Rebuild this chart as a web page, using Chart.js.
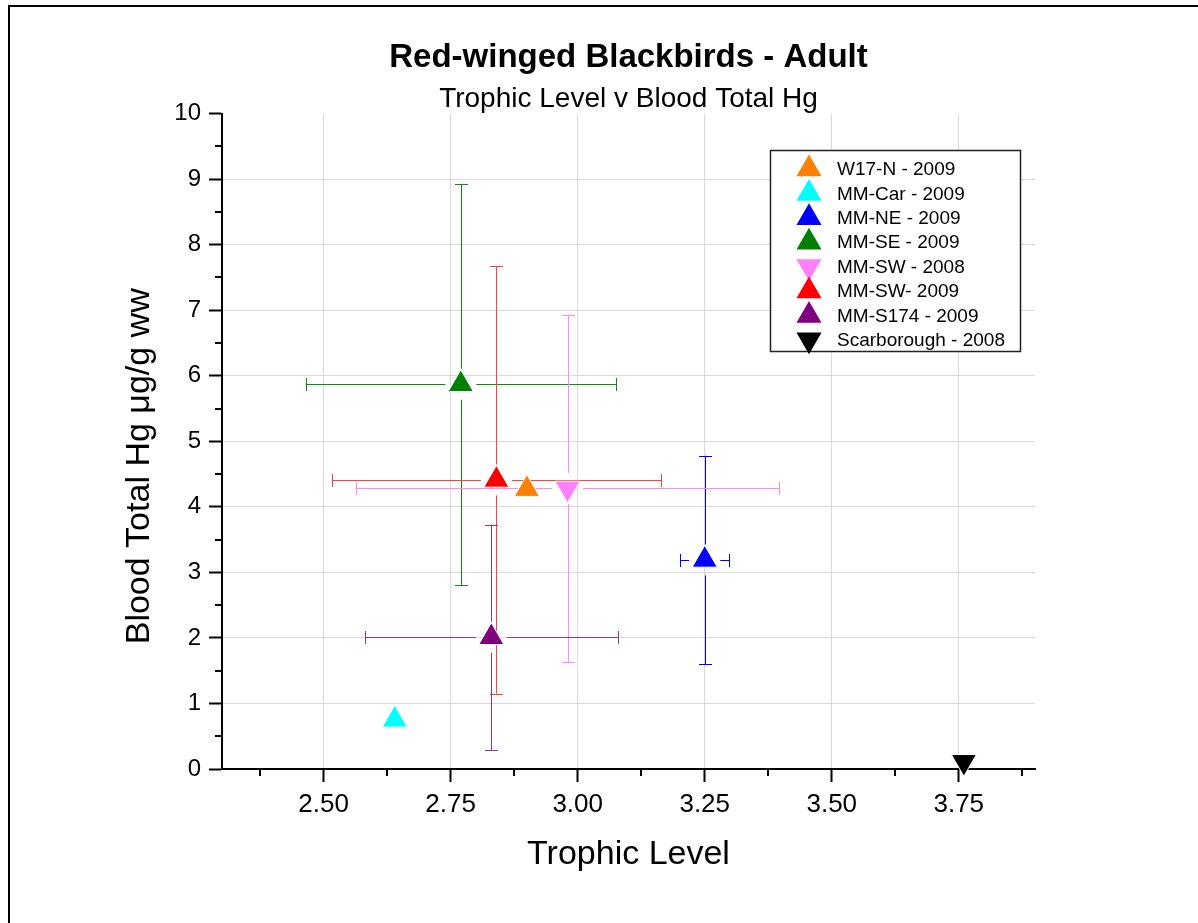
<!DOCTYPE html>
<html>
<head>
<meta charset="utf-8">
<title>Red-winged Blackbirds - Adult</title>
<script src="https://cdn.jsdelivr.net/npm/chart.js@4.4.0/dist/chart.umd.min.js"></script>
<style>
  html, body { margin: 0; padding: 0; background: #fff; overflow: hidden; }
  #wrap { position: relative; width: 1198px; height: 923px; }
</style>
</head>
<body>
<div id="wrap"><canvas id="hgChart" width="1198" height="923"></canvas></div>
<script>
const siteLabels = [
  "W17-N - 2009", "MM-Car - 2009", "MM-NE - 2009", "MM-SE - 2009",
  "MM-SW - 2008", "MM-SW- 2009", "MM-S174 - 2009", "Scarborough - 2008"
];
const siteColors = ["#FF8000", "#00FFFF", "#0000FF", "#008000", "#FF80FF", "#FF0000", "#800080", "#000000"];
const barColors = ["#FF8000", "#00FFFF", "#0000FF", "#118811", "#FF88FF", "#FF4040", "#993399", "#000000"];
const markerDown = [false, false, false, false, true, false, false, true];

// trophic level (x) and blood total Hg (y), with +/- error
const trophic = [2.90, 2.64, 3.25, 2.77, 2.98, 2.84, 2.83, 3.76];
const hgBlood = [4.27, 0.75, 3.19, 5.87, 4.28, 4.41, 2.01, 0.11];
const trophicErr = [null, null, 0.048, 0.305, 0.417, 0.324, 0.249, null];
const hgErr = [null, null, 1.59, 3.06, 2.65, 3.26, 1.72, null];

const xTicks = [2.50, 2.75, 3.00, 3.25, 3.50, 3.75];
const yTicks = [0, 1, 2, 3, 4, 5, 6, 7, 8, 9, 10];
const yTitle = "Blood Total Hg μg/g ww";

const FONT = "'Liberation Sans', Arial, Helvetica, sans-serif";
const R = 14.5;

function triangle(ctx, x, y, r, down) {
  const s = down ? -1 : 1;
  ctx.beginPath();
  ctx.moveTo(x, y - s * r);
  ctx.lineTo(x + r * Math.sin(Math.PI * 2 / 3), y + s * r / 2);
  ctx.lineTo(x - r * Math.sin(Math.PI * 2 / 3), y + s * r / 2);
  ctx.closePath();
}

// outer frame (only left and top edges are in view)
const framePlugin = {
  id: "frame",
  beforeDraw(chart) {
    const ctx = chart.ctx;
    ctx.save();
    ctx.strokeStyle = "#000";
    ctx.lineWidth = 2;
    ctx.beginPath();
    ctx.moveTo(9, chart.height + 5);
    ctx.lineTo(9, 6);
    ctx.lineTo(chart.width + 5, 6);
    ctx.stroke();
    ctx.restore();
  }
};

// minor tick marks half way between the majors, plus the y axis title
const axisExtras = {
  id: "axisExtras",
  afterDraw(chart) {
    const { ctx, scales: { x, y } } = chart;
    ctx.save();
    ctx.strokeStyle = "#000";
    ctx.lineWidth = 2;
    ctx.beginPath();
    const hx = (xTicks[1] - xTicks[0]) / 2;
    for (let v = xTicks[0] - hx; v <= x.max + 1e-9; v += 2 * hx) {
      if (v < x.min) continue;
      const px = Math.round(x.getPixelForValue(v));
      ctx.moveTo(px, y.bottom);
      ctx.lineTo(px, y.bottom + 7);
    }
    const hy = (yTicks[1] - yTicks[0]) / 2;
    for (let v = yTicks[0] + hy; v < y.max; v += 2 * hy) {
      const py = Math.round(y.getPixelForValue(v));
      ctx.moveTo(x.left, py);
      ctx.lineTo(x.left - 7, py);
    }
    ctx.stroke();

    // y title sits a little below the middle of the axis, as in the original
    ctx.translate(140, (y.top + y.bottom) / 2 + 25);
    ctx.rotate(-Math.PI / 2);
    ctx.fillStyle = "#000";
    ctx.font = "34px " + FONT;
    ctx.textAlign = "center";
    ctx.textBaseline = "middle";
    ctx.fillText(yTitle, 0, 0);
    ctx.restore();
  }
};

// error bars, drawn under the markers, with a gap round each marker
const errorBars = {
  id: "errorBars",
  beforeDatasetsDraw(chart) {
    const { ctx, scales: { x, y } } = chart;
    const cap = 6.5;
    ctx.save();
    ctx.lineWidth = 1;
    siteLabels.forEach((name, i) => {
      const px = x.getPixelForValue(trophic[i]);
      const py = y.getPixelForValue(hgBlood[i]);
      ctx.strokeStyle = barColors[i];
      ctx.beginPath();
      if (hgErr[i] != null) {
        const top = y.getPixelForValue(hgBlood[i] + hgErr[i]);
        const bot = y.getPixelForValue(hgBlood[i] - hgErr[i]);
        const cx = Math.round(px) + 0.5;
        ctx.moveTo(cx, py - R - 1); ctx.lineTo(cx, top);
        ctx.moveTo(cx, py + R + 1); ctx.lineTo(cx, bot);
        ctx.moveTo(cx - cap, Math.round(top) + 0.5); ctx.lineTo(cx + cap, Math.round(top) + 0.5);
        ctx.moveTo(cx - cap, Math.round(bot) + 0.5); ctx.lineTo(cx + cap, Math.round(bot) + 0.5);
      }
      if (trophicErr[i] != null) {
        const lft = x.getPixelForValue(trophic[i] - trophicErr[i]);
        const rgt = x.getPixelForValue(trophic[i] + trophicErr[i]);
        const cy = Math.round(py) + 0.5;
        ctx.moveTo(px - R - 1, cy); ctx.lineTo(lft, cy);
        ctx.moveTo(px + R + 1, cy); ctx.lineTo(rgt, cy);
        ctx.moveTo(Math.round(lft) + 0.5, cy - cap); ctx.lineTo(Math.round(lft) + 0.5, cy + cap);
        ctx.moveTo(Math.round(rgt) + 0.5, cy - cap); ctx.lineTo(Math.round(rgt) + 0.5, cy + cap);
      }
      ctx.stroke();
    });
    ctx.restore();
  }
};

// boxed legend inside the plot, top right
const boxLegend = {
  id: "boxLegend",
  afterDraw(chart) {
    const ctx = chart.ctx;
    const left = 770, top = 150, w = 250, h = 201;
    ctx.save();
    ctx.fillStyle = "#fff";
    ctx.fillRect(left, top, w, h);
    ctx.strokeStyle = "#222";
    ctx.lineWidth = 1.5;
    ctx.strokeRect(left + 0.5, top + 0.5, w, h);
    ctx.font = "19px " + FONT;
    ctx.textBaseline = "middle";
    ctx.textAlign = "left";
    siteLabels.forEach((name, i) => {
      const cy = 169 + i * 24.4;
      triangle(ctx, 809, cy, R, markerDown[i]);
      ctx.fillStyle = siteColors[i];
      ctx.fill();
      ctx.fillStyle = "#000";
      ctx.fillText(name, 837, cy + 1);
    });
    ctx.restore();
  }
};

Chart.defaults.font.family = FONT;
Chart.defaults.color = "#000";

const ctx = document.getElementById("hgChart").getContext("2d");
new Chart(ctx, {
  type: "scatter",
  data: {
    datasets: siteLabels.map((name, i) => ({
      label: name,
      data: [{ x: trophic[i], y: hgBlood[i] }],
      pointStyle: "triangle",
      pointRotation: markerDown[i] ? 180 : 0,
      pointRadius: R,
      pointHoverRadius: R,
      pointBackgroundColor: siteColors[i],
      pointBorderColor: "#fff",
      pointBorderWidth: 1,
      clip: false,
    })),
  },
  options: {
    responsive: false,
    animation: false,
    events: [],
    layout: { padding: { left: 20, right: 163, top: 20, bottom: 20 } },
    plugins: {
      legend: { display: false },
      tooltip: { enabled: false },
      title: {
        display: true,
        fullSize: false,
        text: "Red-winged Blackbirds - Adult",
        font: { size: 33, weight: "bold", lineHeight: 1.2 },
        padding: { top: 18, bottom: 0 },
      },
      subtitle: {
        display: true,
        fullSize: false,
        text: "Trophic Level v Blood Total Hg",
        font: { size: 28, lineHeight: 1.0 },
        color: "#000",
        padding: { top: 8, bottom: 0 },
      },
    },
    scales: {
      x: {
        type: "linear",
        min: 2.30,
        max: 3.90,
        afterBuildTicks: (s) => { s.ticks = xTicks.map((v) => ({ value: v })); },
        afterFit: (s) => { s.height = 923 - 20 - 769; },
        ticks: {
          padding: 7,
          font: { size: 26 },
          callback: (v) => Number(v).toFixed(2),
        },
        grid: {
          color: "#d9d9d9",
          lineWidth: 1,
          drawTicks: true,
          tickLength: 13,
          tickColor: "#000",
          tickWidth: 2,
        },
        border: { color: "#000", width: 2 },
        title: {
          display: true,
          text: "Trophic Level",
          font: { size: 34 },
          padding: { top: 0, bottom: 28 },
        },
      },
      y: {
        type: "linear",
        min: 0,
        max: 10,
        afterBuildTicks: (s) => { s.ticks = yTicks.map((v) => ({ value: v })); },
        afterFit: (s) => { s.width = 222 - 20; },
        ticks: {
          padding: 8,
          font: { size: 24 },
          callback: (v) => String(v),
        },
        grid: {
          color: (c) => (c.tick && c.tick.value === 10 ? "rgba(0,0,0,0)" : "#d9d9d9"),
          lineWidth: 1,
          drawTicks: true,
          tickLength: 13,
          tickColor: "#000",
          tickWidth: 2,
        },
        border: { color: "#000", width: 2 },
        title: { display: false },
      },
    },
  },
  plugins: [framePlugin, errorBars, axisExtras, boxLegend],
});
</script>
</body>
</html>
